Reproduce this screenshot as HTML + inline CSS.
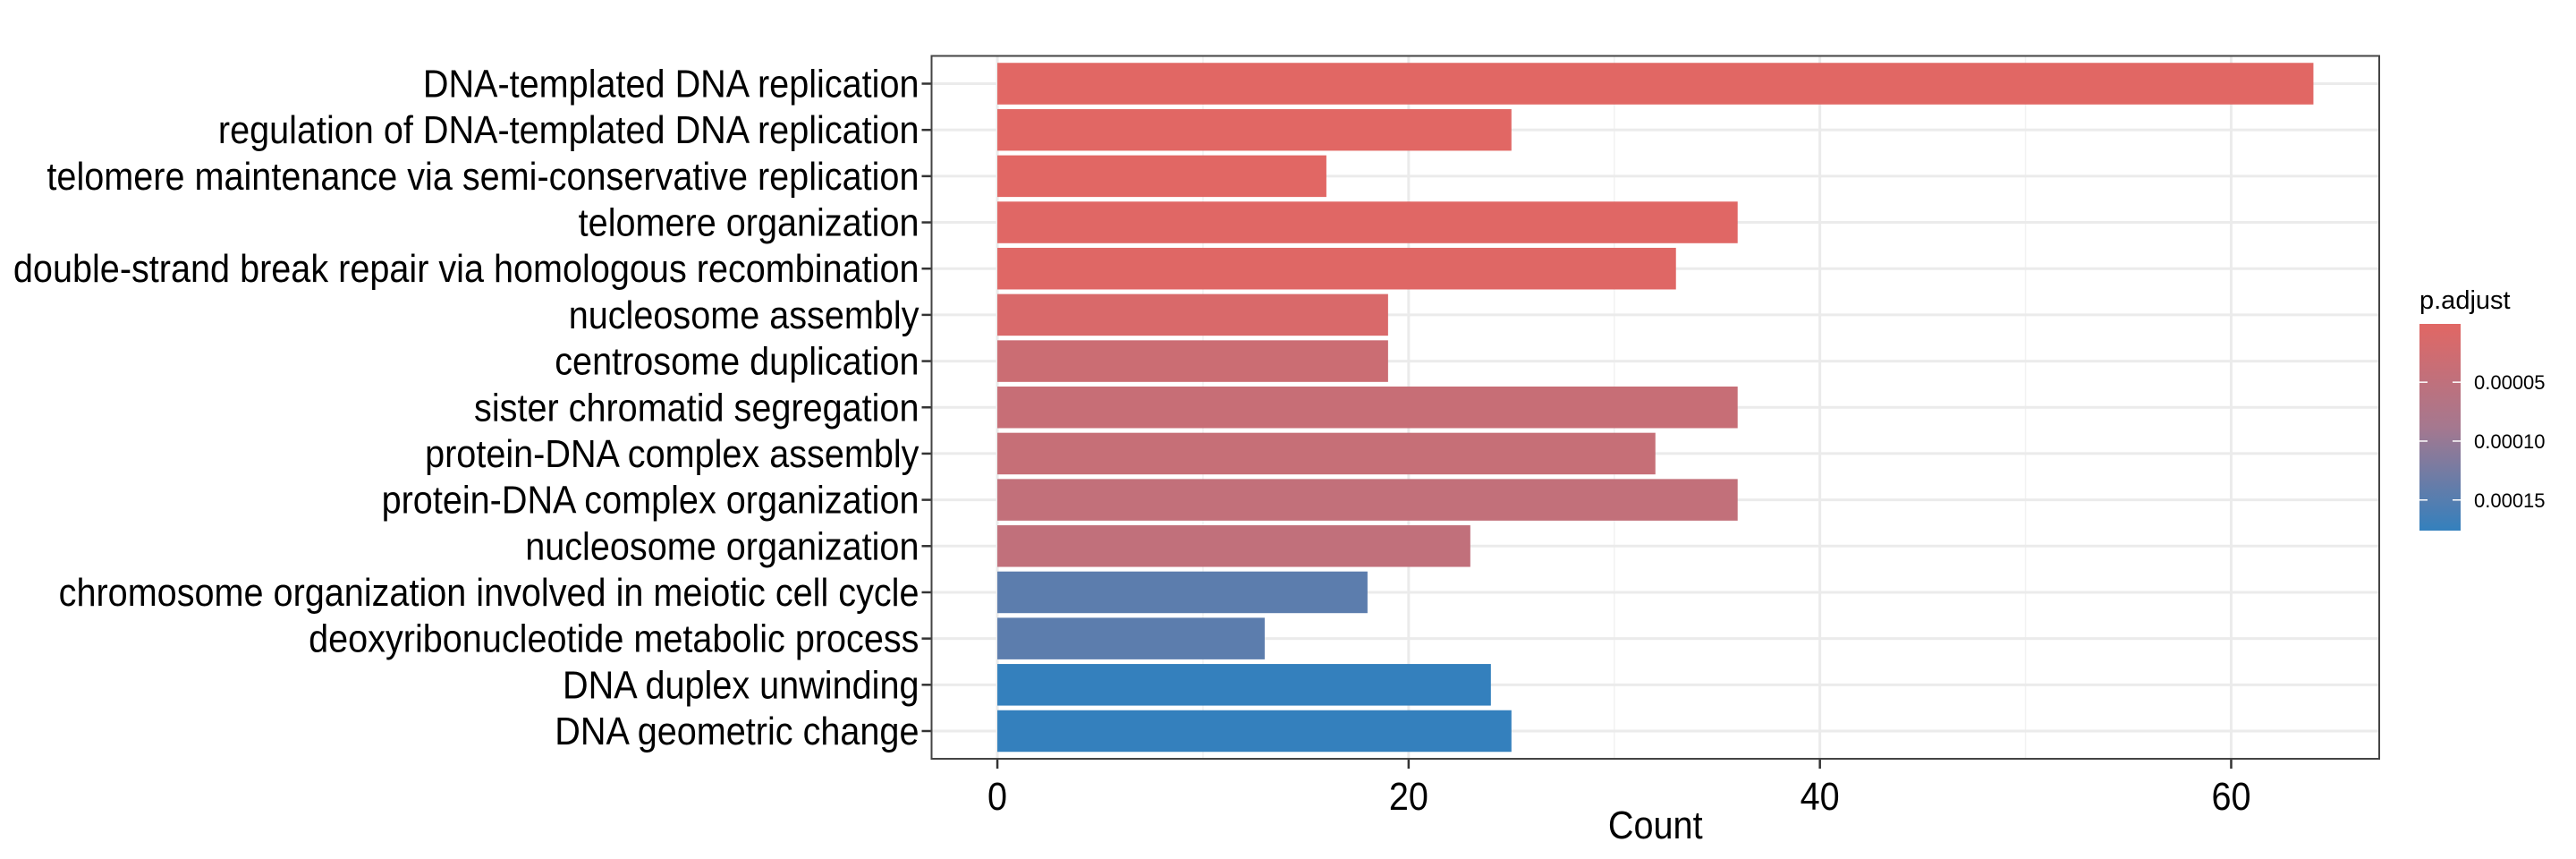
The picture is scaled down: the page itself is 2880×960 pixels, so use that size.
<!DOCTYPE html>
<html><head><meta charset="utf-8"><style>
html,body{margin:0;padding:0;background:#fff;}
svg{display:block;font-family:"Liberation Sans",Arial,sans-serif;}
</style></head><body>
<svg id="chart" width="2880" height="960" viewBox="0 0 2880 960" xmlns="http://www.w3.org/2000/svg">
<defs>
<linearGradient id="lg" x1="0" y1="0" x2="0" y2="1">
<stop offset="0" stop-color="#E16764"/><stop offset="0.5" stop-color="#A5788F"/><stop offset="1" stop-color="#3480BD"/>
</linearGradient>
</defs>
<g id="plot"></g>
<g id="legend"></g>
</svg>
<script>
const categories = ["DNA-templated DNA replication","regulation of DNA-templated DNA replication","telomere maintenance via semi-conservative replication","telomere organization","double-strand break repair via homologous recombination","nucleosome assembly","centrosome duplication","sister chromatid segregation","protein-DNA complex assembly","protein-DNA complex organization","nucleosome organization","chromosome organization involved in meiotic cell cycle","deoxyribonucleotide metabolic process","DNA duplex unwinding","DNA geometric change"];
const counts = [64,25,16,36,33,19,19,36,32,36,23,18,13,24,25];
const padjust = [0.000001,0.000001,0.000001,0.000002,0.000003,0.000012,0.000032,0.000038,0.00004,0.000046,0.000048,0.000145,0.000145,0.000176,0.000176];
const xTicks = [0,20,40,60];
const xMinor = [10,30,50];
const legendTicks = [0.00005,0.0001,0.00015];
const legendTickLabels = ["0.00005","0.00010","0.00015"];

const NS="http://www.w3.org/2000/svg";
const P={l:1041.5,r:2660,t:62.5,b:848};
const xmax=Math.max(...counts), xlo=-xmax*0.05, xhi=xmax*1.05;
const x=v=>P.l+(v-xlo)/(xhi-xlo)*(P.r-P.l);
const n=categories.length;
const step=(P.b-P.t)/(n-1+1.2);
const y=i=>P.t+(0.6+i)*step;
const pmin=0.0000005,pmax=0.000176;
const stops=[[0,[225,103,100]],[0.5,[165,120,143]],[1,[52,128,189]]];
function col(p){let t=Math.max(0,Math.min(1,(p-pmin)/(pmax-pmin)));
 let a=t<0.5?stops[0]:stops[1],b=t<0.5?stops[1]:stops[2];let f=(t-a[0])/(b[0]-a[0]);
 return "rgb("+a[1].map((c,k)=>Math.round(c+(b[1][k]-c)*f)).join(",")+")";}
function mk(tag,attrs,parent,text){const e=document.createElementNS(NS,tag);for(const k in attrs)e.setAttribute(k,attrs[k]);if(text!==undefined)e.textContent=text;parent.appendChild(e);return e;}
function squeeze(t,f){const w=t.getComputedTextLength();t.setAttribute('textLength',w*f);t.setAttribute('lengthAdjust','spacingAndGlyphs');}
const g=document.getElementById('plot');
let bg=mk('rect',{x:P.l,y:P.t,width:P.r-P.l,height:P.b-P.t,fill:'#fff'},g);


xMinor.forEach(v=>{const l=mk('line',{x1:x(v),x2:x(v),y1:P.t,y2:P.b,stroke:'#F2F2F2','stroke-width':1.5},g);
 
 });
xTicks.forEach(v=>{const l=mk('line',{x1:x(v),x2:x(v),y1:P.t,y2:P.b,stroke:'#EBEBEB','stroke-width':3},g);
 
 });
categories.forEach((c,i)=>{const l=mk('line',{x1:P.l,x2:P.r,y1:y(i),y2:y(i),stroke:'#EBEBEB','stroke-width':3},g);
 
 });
const bh=step*0.9;
categories.forEach((c,i)=>{
 const r=mk('rect',{x:x(0),y:y(i)-bh/2,width:x(counts[i])-x(0),height:bh,fill:col(padjust[i])},g);
 
 
 const t=mk('line',{x1:P.l-11,x2:P.l,y1:y(i),y2:y(i),stroke:'#333','stroke-width':2.5},g);
 
 
 const lb=mk('text',{x:P.l-14,y:y(i)+15,'text-anchor':'end','font-size':44,fill:'#000'},g,c);
 
 
 squeeze(lb,0.9);
});
xTicks.forEach(v=>{
 const t=mk('line',{x1:x(v),x2:x(v),y1:P.b,y2:P.b+11,stroke:'#333','stroke-width':2.5},g);
 
 
 const lb=mk('text',{x:x(v),y:905,'text-anchor':'middle','font-size':44,fill:'#000'},g,String(v));
 
 
 squeeze(lb,0.9);
});
const border=mk('rect',{x:P.l,y:P.t,width:P.r-P.l,height:P.b-P.t,fill:'none',stroke:'#444','stroke-width':2},g);


const xt=mk('text',{x:(P.l+P.r)/2,y:937,'text-anchor':'middle','font-size':44,fill:'#000'},g,'Count');


squeeze(xt,0.9);

const L=document.getElementById('legend');
const lt=mk('text',{x:2705,y:345,'font-size':29,fill:'#000'},L,'p.adjust');


const LB={x:2705,w:46,t:362,b:593};
const cb=mk('rect',{x:LB.x,y:LB.t,width:LB.w,height:LB.b-LB.t,fill:'url(#lg)'},L);


legendTicks.forEach((v,i)=>{
 const yy=LB.t+(v-pmin)/(pmax-pmin)*(LB.b-LB.t);
 const a=mk('line',{x1:LB.x,x2:LB.x+9,y1:yy,y2:yy,stroke:'#fff','stroke-width':1.5},L);
 
 
 const b=mk('line',{x1:LB.x+LB.w-9,x2:LB.x+LB.w,y1:yy,y2:yy,stroke:'#fff','stroke-width':1.5},L);
 
 
 const tx=mk('text',{x:2766,y:yy+8,'font-size':22,fill:'#000'},L,legendTickLabels[i]);
 
 
});
</script>
</body></html>
